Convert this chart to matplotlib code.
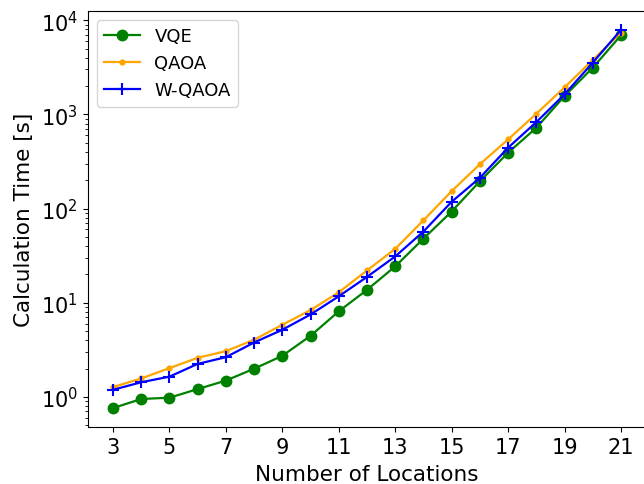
import matplotlib
matplotlib.use("Agg")
import matplotlib.pyplot as plt

# Number of locations
locations = list(range(3, 22))

# Calculation time [s]
vqe = [0.76, 0.95, 0.98, 1.21, 1.49, 1.99, 2.73, 4.45, 8.1, 13.7, 24.3,
       47.9, 93, 195, 392, 721, 1566, 3134, 6920]
qaoa = [1.27, 1.57, 2.02, 2.6, 3.06, 4.04, 5.83, 8.35, 12.9, 22, 37.3,
        75, 153, 296, 542, 1017, 1937, 3785, 7400]
wqaoa = [1.19, 1.43, 1.64, 2.24, 2.64, 3.78, 5.16, 7.5, 11.7, 18.8, 31,
         57, 118, 212, 443, 828, 1633, 3548, 7890]

xtick_vals = list(range(3, 22, 2))

fig = plt.figure(figsize=(6.44, 4.85), dpi=100)
ax = fig.add_axes([0.136, 0.1175, 0.8677, 0.8577])

ax.plot(locations, vqe, color="green", marker="o", markersize=7.5,
        linewidth=1.6, label="VQE")
ax.plot(locations, qaoa, color="orange", marker=".", markersize=7,
        linewidth=1.6, label="QAOA")
ax.plot(locations, wqaoa, color="blue", marker="+", markersize=8,
        markeredgewidth=1.5, linewidth=1.6, label="W-QAOA")

ax.set_yscale("log")
ax.set_xticks(xtick_vals)
ax.tick_params(axis="both", labelsize=15)
ax.set_xlabel("Number of Locations", fontsize=15.5, labelpad=5)
ax.set_ylabel("Calculation Time [s]", fontsize=15.5, labelpad=5)
ax.legend(loc="upper left", fontsize=13)

fig.savefig("out.png", dpi=100)
